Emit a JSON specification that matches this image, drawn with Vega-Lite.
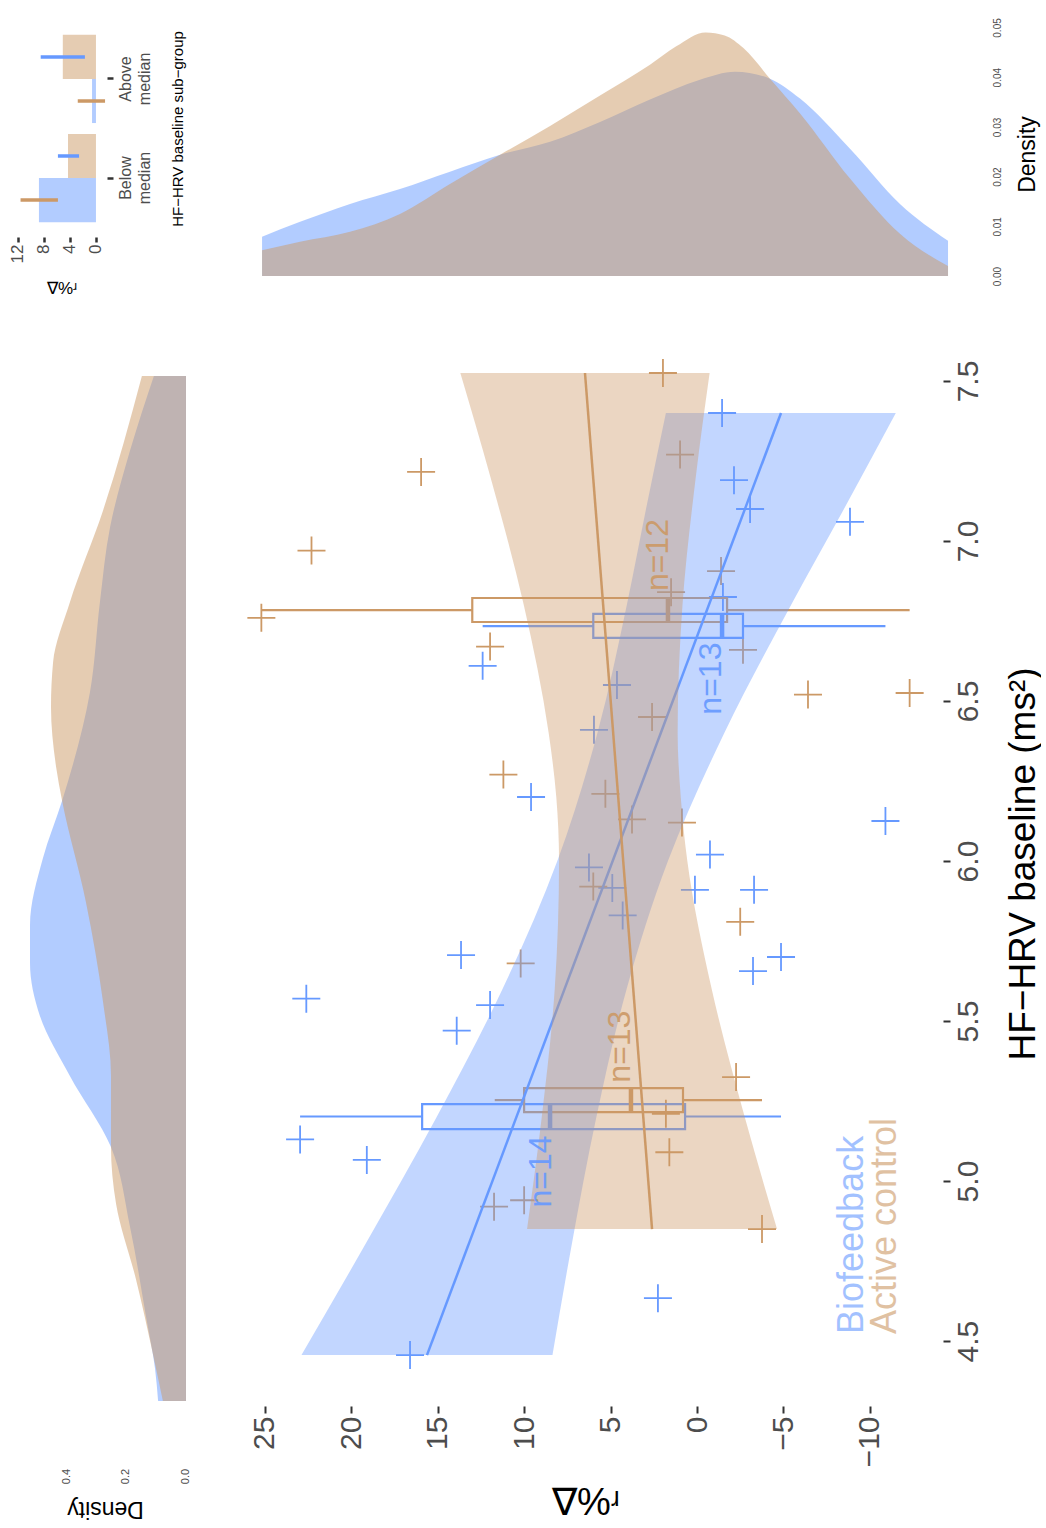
{
"$schema": "https://vega.github.io/schema/vega-lite/v6.json",
"background": "white",
"padding": {"left": 8, "top": 17, "right": 0, "bottom": 0},
"config": {
  "view": {"stroke": null},
  "font": "Liberation Sans",
  "axis": {"grid": false, "domain": false, "labelOverlap": false, "labelFont": "Liberation Sans", "titleFont": "Liberation Sans", "titleFontWeight": "normal", "labelColor": "#4d4d4d", "titleColor": "#000000", "tickColor": "#333333"},
  "text": {"font": "Liberation Sans"}
},
"columns": 2,
"align": "each",
"spacing": {"row": 24, "column": 34},
"resolve": {"scale": {"color": "independent"}},
"datasets": {
  "bars": [
    {"sub": "Below median", "g": "Biofeedback", "val": 8.77, "lo": 5.85, "hi": 11.6},
    {"sub": "Below median", "g": "Active control", "val": 4.3, "lo": 2.6, "hi": 5.85},
    {"sub": "Above median", "g": "Active control", "val": 5.1, "lo": 1.7, "hi": 8.5},
    {"sub": "Above median", "g": "Biofeedback", "val": 0.6, "lo": -1.4, "hi": 2.8}
  ],
  "dtop": [
    {"g": "Biofeedback", "d": 25.16, "dens": 0.0079},
    {"g": "Biofeedback", "d": 22.96, "dens": 0.0109},
    {"g": "Biofeedback", "d": 20.07, "dens": 0.0145},
    {"g": "Biofeedback", "d": 17.18, "dens": 0.0175},
    {"g": "Biofeedback", "d": 14.29, "dens": 0.021},
    {"g": "Biofeedback", "d": 11.39, "dens": 0.0244},
    {"g": "Biofeedback", "d": 8.5, "dens": 0.027},
    {"g": "Biofeedback", "d": 5.61, "dens": 0.031},
    {"g": "Biofeedback", "d": 2.72, "dens": 0.0355},
    {"g": "Biofeedback", "d": -0.17, "dens": 0.0395},
    {"g": "Biofeedback", "d": -2.2, "dens": 0.0411},
    {"g": "Biofeedback", "d": -4.22, "dens": 0.0397},
    {"g": "Biofeedback", "d": -5.96, "dens": 0.0357},
    {"g": "Biofeedback", "d": -8.85, "dens": 0.0256},
    {"g": "Biofeedback", "d": -11.74, "dens": 0.0145},
    {"g": "Biofeedback", "d": -14.52, "dens": 0.0071},
    {"g": "Active control", "d": 25.16, "dens": 0.0052},
    {"g": "Active control", "d": 22.96, "dens": 0.0069},
    {"g": "Active control", "d": 20.07, "dens": 0.0089},
    {"g": "Active control", "d": 17.18, "dens": 0.0125},
    {"g": "Active control", "d": 14.29, "dens": 0.0185},
    {"g": "Active control", "d": 11.39, "dens": 0.0244},
    {"g": "Active control", "d": 8.5, "dens": 0.0302},
    {"g": "Active control", "d": 5.61, "dens": 0.0363},
    {"g": "Active control", "d": 2.72, "dens": 0.0425},
    {"g": "Active control", "d": 1.2, "dens": 0.0462},
    {"g": "Active control", "d": -0.5, "dens": 0.049},
    {"g": "Active control", "d": -1.6, "dens": 0.0484},
    {"g": "Active control", "d": -2.7, "dens": 0.0458},
    {"g": "Active control", "d": -4.22, "dens": 0.0397},
    {"g": "Active control", "d": -5.96, "dens": 0.0327},
    {"g": "Active control", "d": -8.85, "dens": 0.0196},
    {"g": "Active control", "d": -11.74, "dens": 0.0085},
    {"g": "Active control", "d": -14.52, "dens": 0.002}
  ],
  "dleft": [
    {"g": "Biofeedback", "h": 7.516, "dens": 0.107},
    {"g": "Biofeedback", "h": 7.281, "dens": 0.187},
    {"g": "Biofeedback", "h": 7.044, "dens": 0.253},
    {"g": "Biofeedback", "h": 6.809, "dens": 0.287},
    {"g": "Biofeedback", "h": 6.528, "dens": 0.32},
    {"g": "Biofeedback", "h": 6.188, "dens": 0.413},
    {"g": "Biofeedback", "h": 6.009, "dens": 0.477},
    {"g": "Biofeedback", "h": 5.8, "dens": 0.52},
    {"g": "Biofeedback", "h": 5.681, "dens": 0.52},
    {"g": "Biofeedback", "h": 5.516, "dens": 0.487},
    {"g": "Biofeedback", "h": 5.328, "dens": 0.387},
    {"g": "Biofeedback", "h": 5.106, "dens": 0.25},
    {"g": "Biofeedback", "h": 4.859, "dens": 0.187},
    {"g": "Biofeedback", "h": 4.575, "dens": 0.133},
    {"g": "Biofeedback", "h": 4.4125, "dens": 0.103},
    {"g": "Biofeedback", "h": 4.3125, "dens": 0.093},
    {"g": "Active control", "h": 7.516, "dens": 0.147},
    {"g": "Active control", "h": 7.094, "dens": 0.277},
    {"g": "Active control", "h": 6.809, "dens": 0.387},
    {"g": "Active control", "h": 6.622, "dens": 0.443},
    {"g": "Active control", "h": 6.481, "dens": 0.45},
    {"g": "Active control", "h": 6.294, "dens": 0.433},
    {"g": "Active control", "h": 6.188, "dens": 0.413},
    {"g": "Active control", "h": 5.869, "dens": 0.333},
    {"g": "Active control", "h": 5.5625, "dens": 0.277},
    {"g": "Active control", "h": 5.328, "dens": 0.25},
    {"g": "Active control", "h": 5.106, "dens": 0.25},
    {"g": "Active control", "h": 4.928, "dens": 0.233},
    {"g": "Active control", "h": 4.694, "dens": 0.167},
    {"g": "Active control", "h": 4.459, "dens": 0.11},
    {"g": "Active control", "h": 4.3125, "dens": 0.077}
  ],
  "pts": [
    {"g": "Biofeedback", "d": -1.45, "h": 7.4},
    {"g": "Biofeedback", "d": -2.14, "h": 7.19},
    {"g": "Biofeedback", "d": -3.07, "h": 7.1},
    {"g": "Biofeedback", "d": -8.85, "h": 7.06},
    {"g": "Biofeedback", "d": -1.5, "h": 6.825},
    {"g": "Biofeedback", "d": 12.4, "h": 6.61},
    {"g": "Biofeedback", "d": 4.63, "h": 6.55},
    {"g": "Biofeedback", "d": 5.96, "h": 6.41},
    {"g": "Biofeedback", "d": 9.6, "h": 6.2},
    {"g": "Biofeedback", "d": -10.9, "h": 6.125},
    {"g": "Biofeedback", "d": -0.75, "h": 6.02},
    {"g": "Biofeedback", "d": 6.25, "h": 5.98},
    {"g": "Biofeedback", "d": 4.9, "h": 5.916},
    {"g": "Biofeedback", "d": 4.3, "h": 5.83},
    {"g": "Biofeedback", "d": 0.12, "h": 5.91},
    {"g": "Biofeedback", "d": -3.3, "h": 5.91},
    {"g": "Biofeedback", "d": -4.86, "h": 5.7},
    {"g": "Biofeedback", "d": -3.24, "h": 5.656},
    {"g": "Biofeedback", "d": 13.65, "h": 5.706},
    {"g": "Biofeedback", "d": 22.6, "h": 5.57},
    {"g": "Biofeedback", "d": 11.97, "h": 5.55},
    {"g": "Biofeedback", "d": 13.9, "h": 5.47},
    {"g": "Biofeedback", "d": 22.96, "h": 5.13},
    {"g": "Biofeedback", "d": 19.1, "h": 5.066},
    {"g": "Biofeedback", "d": 2.26, "h": 4.634},
    {"g": "Biofeedback", "d": 16.6, "h": 4.456},
    {"g": "Active control", "d": 1.97, "h": 7.525},
    {"g": "Active control", "d": 15.96, "h": 7.216},
    {"g": "Active control", "d": 0.98, "h": 7.27},
    {"g": "Active control", "d": 22.3, "h": 6.97},
    {"g": "Active control", "d": -1.39, "h": 6.906},
    {"g": "Active control", "d": 1.5, "h": 6.84},
    {"g": "Active control", "d": 25.2, "h": 6.76},
    {"g": "Active control", "d": 11.97, "h": 6.67},
    {"g": "Active control", "d": -2.66, "h": 6.66},
    {"g": "Active control", "d": -6.42, "h": 6.52},
    {"g": "Active control", "d": -12.3, "h": 6.525},
    {"g": "Active control", "d": 2.6, "h": 6.45},
    {"g": "Active control", "d": 11.2, "h": 6.27},
    {"g": "Active control", "d": 5.3, "h": 6.21},
    {"g": "Active control", "d": 3.76, "h": 6.13},
    {"g": "Active control", "d": 0.87, "h": 6.12},
    {"g": "Active control", "d": 6.0, "h": 5.92},
    {"g": "Active control", "d": -2.5, "h": 5.81},
    {"g": "Active control", "d": 10.2, "h": 5.68},
    {"g": "Active control", "d": -2.26, "h": 5.325},
    {"g": "Active control", "d": 1.8, "h": 5.21},
    {"g": "Active control", "d": 1.6, "h": 5.09},
    {"g": "Active control", "d": -3.76, "h": 4.85},
    {"g": "Active control", "d": 11.74, "h": 4.92},
    {"g": "Active control", "d": 10.0, "h": 4.94}
  ],
  "box": [
    {"g": "Biofeedback", "wlo": -4.86, "q1": 0.69, "med": 8.5, "q3": 15.9, "whi": 22.96, "hlo": 5.1625, "hhi": 5.2406, "hc": 5.2016},
    {"g": "Active control", "wlo": -3.76, "q1": 0.81, "med": 3.82, "q3": 10.0, "whi": 11.7, "hlo": 5.2156, "hhi": 5.2906, "hc": 5.253},
    {"g": "Active control", "wlo": -12.3, "q1": -1.74, "med": 1.68, "q3": 13.0, "whi": 25.2, "hlo": 6.7469, "hhi": 6.8219, "hc": 6.784},
    {"g": "Biofeedback", "wlo": -10.9, "q1": -2.66, "med": -1.45, "q3": 6.0, "whi": 12.4, "hlo": 6.697, "hhi": 6.772, "hc": 6.734}
  ],
  "band": [
    {"g": "Biofeedback", "h": 4.456, "lo": 8.36, "hi": 22.88},
    {"g": "Biofeedback", "h": 4.8, "lo": 7.25, "hi": 19.21},
    {"g": "Biofeedback", "h": 5.2, "lo": 5.82, "hi": 15.06},
    {"g": "Biofeedback", "h": 5.6, "lo": 4.07, "hi": 11.25},
    {"g": "Biofeedback", "h": 6.0, "lo": 1.68, "hi": 8.08},
    {"g": "Biofeedback", "h": 6.4, "lo": -1.58, "hi": 5.76},
    {"g": "Biofeedback", "h": 6.8, "lo": -5.44, "hi": 4.06},
    {"g": "Biofeedback", "h": 7.1, "lo": -8.5, "hi": 2.95},
    {"g": "Biofeedback", "h": 7.4, "lo": -11.5, "hi": 1.8},
    {"g": "Active control", "h": 4.85, "lo": -4.63, "hi": 9.83},
    {"g": "Active control", "h": 5.2, "lo": -2.76, "hi": 8.98},
    {"g": "Active control", "h": 5.6, "lo": -0.85, "hi": 8.23},
    {"g": "Active control", "h": 6.0, "lo": 0.56, "hi": 7.98},
    {"g": "Active control", "h": 6.2, "lo": 0.94, "hi": 8.14},
    {"g": "Active control", "h": 6.4, "lo": 1.12, "hi": 8.58},
    {"g": "Active control", "h": 6.8, "lo": 0.84, "hi": 10.02},
    {"g": "Active control", "h": 7.2, "lo": 0.07, "hi": 11.95},
    {"g": "Active control", "h": 7.525, "lo": -0.73, "hi": 13.69}
  ],
  "fit": [
    {"g": "Biofeedback", "d1": 15.62, "h1": 4.456, "d2": -4.86, "h2": 7.4},
    {"g": "Active control", "d1": 2.6, "h1": 4.85, "d2": 6.48, "h2": 7.525}
  ],
  "nlab": [
    {"g": "Biofeedback", "d": 9.0, "h": 5.03, "t": "n=14"},
    {"g": "Active control", "d": 4.45, "h": 5.42, "t": "n=13"},
    {"g": "Active control", "d": 2.26, "h": 6.956, "t": "n=12"},
    {"g": "Biofeedback", "d": -0.8, "h": 6.57, "t": "n=13"}
  ],
  "leg": [
    {"g": "Biofeedback", "d": -8.96, "h": 4.522, "t": "Biofeedback"},
    {"g": "Active control", "d": -10.87, "h": 4.522, "t": "Active control"}
  ]
},
"concat": [
  {
    "width": 91, "height": 217,
    "data": {"name": "bars"},
    "layer": [
      {
        "mark": {"type": "bar"},
        "encoding": {
          "y": {"field": "sub", "type": "nominal", "scale": {"domain": ["Above median", "Below median"], "paddingInner": 0.11, "paddingOuter": 0.15},
                "axis": {"orient": "right", "labelAngle": 270, "labelAlign": "center", "labelBaseline": "top", "labelFontSize": 16, "labelLineHeight": 19, "labelExpr": "split(datum.label, ' ')", "tickSize": 6, "tickWidth": 2.5, "labelPadding": 4, "title": "HF−HRV baseline sub−group", "titleFontSize": 15, "titleAngle": 270, "titleBaseline": "top", "titlePadding": 18}},
          "yOffset": {"field": "g", "type": "nominal", "scale": {"domain": ["Active control", "Biofeedback"], "paddingInner": 0, "paddingOuter": 0}},
          "x": {"field": "val", "type": "quantitative", "scale": {"domain": [-1.7, 12.3], "reverse": true, "nice": false, "zero": false},
                "axis": {"orient": "bottom", "values": [0, 4, 8, 12], "labelOverlap": false, "labelBound": false, "labelAngle": 270, "labelFontSize": 17, "tickSize": 5, "tickWidth": 2.5, "labelPadding": 2, "title": "∇%ʴ", "titleFontSize": 17, "titlePadding": 18}},
          "x2": {"datum": 0},
          "color": {"field": "g", "type": "nominal", "scale": {"domain": ["Biofeedback", "Active control"], "range": ["#b2ccff", "#e5ccb2"]}, "legend": null}
        }
      },
      {
        "transform": [{"filter": "datum.g == 'Biofeedback'"}],
        "mark": {"type": "rule", "color": "#cc9966", "strokeWidth": 3.5},
        "encoding": {
          "y": {"field": "sub", "type": "nominal"},
          "yOffset": {"field": "g", "type": "nominal"},
          "x": {"field": "lo", "type": "quantitative",
                "axis": {"orient": "bottom", "values": [0, 4, 8, 12], "labelOverlap": false, "labelBound": false, "labelAngle": 270, "labelFontSize": 17, "tickSize": 5, "tickWidth": 2.5, "labelPadding": 2, "title": "∇%ʴ", "titleFontSize": 17, "titlePadding": 18}},
          "x2": {"field": "hi"}
        }
      },
      {
        "transform": [{"filter": "datum.g == 'Active control'"}],
        "mark": {"type": "rule", "color": "#6699ff", "strokeWidth": 3.5},
        "encoding": {
          "y": {"field": "sub", "type": "nominal"},
          "yOffset": {"field": "g", "type": "nominal"},
          "x": {"field": "lo", "type": "quantitative",
                "axis": {"orient": "bottom", "values": [0, 4, 8, 12], "labelOverlap": false, "labelBound": false, "labelAngle": 270, "labelFontSize": 17, "tickSize": 5, "tickWidth": 2.5, "labelPadding": 2, "title": "∇%ʴ", "titleFontSize": 17, "titlePadding": 18}},
          "x2": {"field": "hi"}
        }
      }
    ]
  },
  {
    "width": 715, "height": 268,
    "data": {"name": "dtop"},
    "encoding": {
      "x": {"field": "d", "type": "quantitative", "scale": {"domain": [-14.23, 27.13], "reverse": true, "nice": false, "zero": false}, "axis": null},
      "y": {"field": "dens", "type": "quantitative", "stack": null, "scale": {"domain": [-0.0024, 0.0515], "nice": false, "zero": false},
            "axis": {"orient": "right", "values": [0, 0.01, 0.02, 0.03, 0.04, 0.05], "format": ".2f", "labelAngle": 270, "labelAlign": "center", "labelBaseline": "middle", "labelFontSize": 10, "tickSize": 0, "labelPadding": 54, "title": "Density", "titleFontSize": 23, "titleAngle": 270, "titleBaseline": "top", "titlePadding": 14}},
      "y2": {"datum": 0}
    },
    "layer": [
      {"transform": [{"filter": "datum.g == 'Biofeedback'"}], "mark": {"type": "area", "interpolate": "monotone", "color": "#6699ff", "opacity": 0.5}},
      {"transform": [{"filter": "datum.g == 'Active control'"}], "mark": {"type": "area", "interpolate": "monotone", "color": "#cc9966", "opacity": 0.5}}
    ]
  },
  {
    "width": 178, "height": 1085,
    "data": {"name": "dleft"},
    "encoding": {
      "y": {"field": "h", "type": "quantitative", "scale": {"domain": [4.297, 7.6875], "nice": false, "zero": false}, "axis": null},
      "x": {"field": "dens", "type": "quantitative", "stack": null, "scale": {"domain": [-0.0267, 0.5667], "reverse": true, "nice": false, "zero": false},
            "axis": {"orient": "bottom", "values": [0, 0.2, 0.4], "format": ".1f", "labelAngle": 270, "labelAlign": "center", "labelBaseline": "middle", "labelFontSize": 11, "tickSize": 0, "labelPadding": 70, "title": "Density", "titleFontSize": 23, "titleAngle": 180, "titleBaseline": "bottom", "titlePadding": 13}},
      "x2": {"datum": 0}
    },
    "layer": [
      {"transform": [{"filter": "datum.g == 'Biofeedback'"}], "mark": {"type": "area", "orient": "horizontal", "interpolate": "monotone", "color": "#6699ff", "opacity": 0.5}},
      {"transform": [{"filter": "datum.g == 'Active control'"}], "mark": {"type": "area", "orient": "horizontal", "interpolate": "monotone", "color": "#cc9966", "opacity": 0.5}}
    ]
  },
  {
    "width": 715, "height": 1085,
    "layer": [
      {
        "data": {"name": "pts"},
        "mark": {"type": "point", "shape": "M-1,0L1,0M0,-1L0,1", "size": 784, "strokeWidth": 1.8, "filled": false, "opacity": 1},
        "encoding": {
          "x": {"field": "d", "type": "quantitative", "scale": {"domain": [-14.23, 27.13], "reverse": true, "nice": false, "zero": false},
                "axis": {"orient": "bottom", "values": [-10, -5, 0, 5, 10, 15, 20, 25], "labelAngle": 270, "labelFontSize": 30, "tickSize": 7, "tickWidth": 2, "labelPadding": 3, "title": "∇%ʴ", "titleFontSize": 38, "titlePadding": 18}},
          "y": {"field": "h", "type": "quantitative", "scale": {"domain": [4.297, 7.6875], "nice": false, "zero": false},
                "axis": {"orient": "right", "values": [4.5, 5, 5.5, 6, 6.5, 7, 7.5], "format": ".1f", "labelAngle": 270, "labelAlign": "center", "labelBaseline": "top", "labelFontSize": 30, "tickSize": 7, "tickWidth": 2, "labelPadding": 3, "title": "HF−HRV baseline (ms²)", "titleFontSize": 37, "titleAngle": 270, "titleBaseline": "top", "titlePadding": 22}},
          "color": {"field": "g", "type": "nominal", "scale": {"domain": ["Biofeedback", "Active control"], "range": ["#6699ff", "#cc9966"]}, "legend": null}
        }
      },
      {
        "data": {"name": "box"},
        "mark": {"type": "rect", "filled": false, "strokeWidth": 2.2},
        "encoding": {
          "x": {"field": "q3", "type": "quantitative"},
          "x2": {"field": "q1"},
          "y": {"field": "hlo", "type": "quantitative"},
          "y2": {"field": "hhi"},
          "color": {"field": "g", "type": "nominal", "legend": null}
        }
      },
      {
        "data": {"name": "box"},
        "mark": {"type": "rule", "strokeWidth": 2.2},
        "encoding": {
          "x": {"field": "q3", "type": "quantitative"},
          "x2": {"field": "whi"},
          "y": {"field": "hc", "type": "quantitative"},
          "color": {"field": "g", "type": "nominal", "legend": null}
        }
      },
      {
        "data": {"name": "box"},
        "mark": {"type": "rule", "strokeWidth": 2.2},
        "encoding": {
          "x": {"field": "wlo", "type": "quantitative"},
          "x2": {"field": "q1"},
          "y": {"field": "hc", "type": "quantitative"},
          "color": {"field": "g", "type": "nominal", "legend": null}
        }
      },
      {
        "data": {"name": "box"},
        "mark": {"type": "rule", "strokeWidth": 4.5},
        "encoding": {
          "x": {"field": "med", "type": "quantitative"},
          "y": {"field": "hlo", "type": "quantitative"},
          "y2": {"field": "hhi"},
          "color": {"field": "g", "type": "nominal", "legend": null}
        }
      },
      {
        "data": {"name": "band"},
        "transform": [{"filter": "datum.g == 'Biofeedback'"}],
        "mark": {"type": "area", "orient": "horizontal", "interpolate": "monotone", "color": "#6699ff", "opacity": 0.4},
        "encoding": {
          "y": {"field": "h", "type": "quantitative"},
          "x": {"field": "lo", "type": "quantitative"},
          "x2": {"field": "hi"}
        }
      },
      {
        "data": {"name": "fit"},
        "transform": [{"filter": "datum.g == 'Biofeedback'"}],
        "mark": {"type": "rule", "color": "#6699ff", "strokeWidth": 2.5},
        "encoding": {
          "x": {"field": "d1", "type": "quantitative"},
          "x2": {"field": "d2"},
          "y": {"field": "h1", "type": "quantitative"},
          "y2": {"field": "h2"}
        }
      },
      {
        "data": {"name": "band"},
        "transform": [{"filter": "datum.g == 'Active control'"}],
        "mark": {"type": "area", "orient": "horizontal", "interpolate": "monotone", "color": "#cc9966", "opacity": 0.4},
        "encoding": {
          "y": {"field": "h", "type": "quantitative"},
          "x": {"field": "lo", "type": "quantitative"},
          "x2": {"field": "hi"}
        }
      },
      {
        "data": {"name": "fit"},
        "transform": [{"filter": "datum.g == 'Active control'"}],
        "mark": {"type": "rule", "color": "#cc9966", "strokeWidth": 2.5},
        "encoding": {
          "x": {"field": "d1", "type": "quantitative"},
          "x2": {"field": "d2"},
          "y": {"field": "h1", "type": "quantitative"},
          "y2": {"field": "h2"}
        }
      },
      {
        "data": {"name": "nlab"},
        "mark": {"type": "text", "angle": 270, "align": "center", "baseline": "middle", "fontSize": 32, "opacity": 0.9},
        "encoding": {
          "x": {"field": "d", "type": "quantitative"},
          "y": {"field": "h", "type": "quantitative"},
          "text": {"field": "t"},
          "color": {"field": "g", "type": "nominal", "legend": null}
        }
      },
      {
        "data": {"name": "leg"},
        "mark": {"type": "text", "angle": 270, "align": "left", "baseline": "middle", "fontSize": 36, "opacity": 0.6},
        "encoding": {
          "x": {"field": "d", "type": "quantitative"},
          "y": {"field": "h", "type": "quantitative"},
          "text": {"field": "t"},
          "color": {"field": "g", "type": "nominal", "legend": null}
        }
      }
    ]
  }
]
}
